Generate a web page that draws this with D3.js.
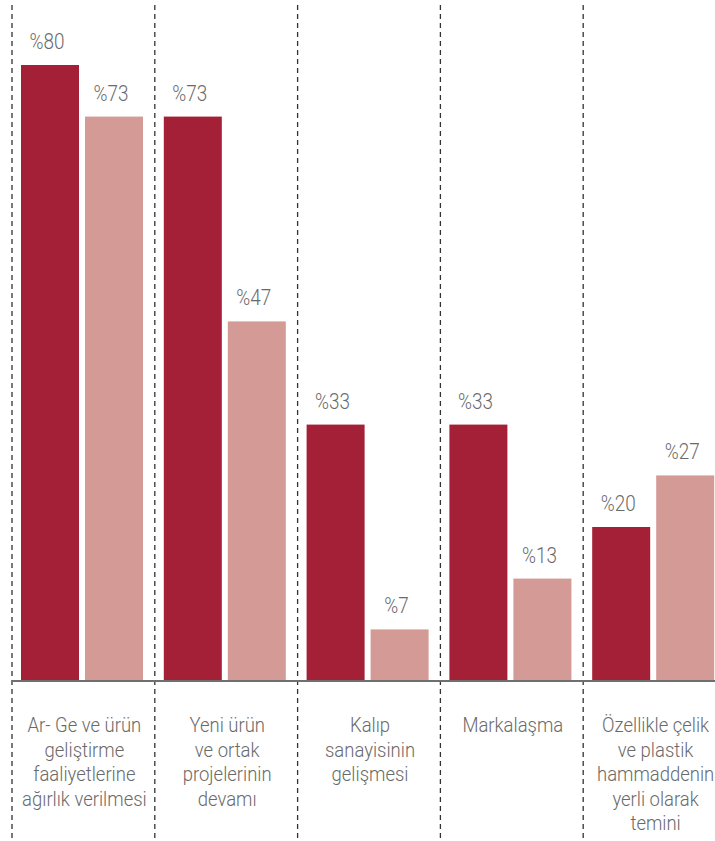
<!DOCTYPE html>
<html><head><meta charset="utf-8">
<script src="https://cdn.jsdelivr.net/npm/d3@7"></script>
<style>
html,body{margin:0;padding:0;background:#fff;}
svg{display:block;}
text{font-family:"Roboto","Liberation Sans",sans-serif;font-weight:300;fill:#6a6a6a;}
</style></head>
<body>
<svg id="chart" width="715" height="841"></svg>
<script>
const categories = [
  ["Ar- Ge ve ürün","geliştirme","faaliyetlerine","ağırlık verilmesi"],
  ["Yeni ürün","ve ortak","projelerinin","devamı"],
  ["Kalıp","sanayisinin","gelişmesi"],
  ["Markalaşma"],
  ["Özellikle çelik","ve plastik","hammaddenin","yerli olarak","temini"]
];
const seriesA = [80, 73.3, 33.3, 33.3, 20];
const seriesB = [73.3, 46.7, 6.7, 13.3, 26.7];
const labelsA = ["%80","%73","%33","%33","%20"];
const labelsB = ["%73","%47","%7","%13","%27"];
const colors = ["#a32036", "#d49a96"];

const svg = d3.select("#chart");
const keys = categories.map((c,i)=>"g"+i);
const x0 = d3.scaleBand().domain(keys).range([12, 12+142.8*5]).padding(0);
const x1 = d3.scaleBand().domain(["a","b"]).range([9, 131]).paddingInner(0.09375).paddingOuter(0);
const y = d3.scaleLinear().domain([0, 80]).range([681, 65]);

// separators
svg.append("g").selectAll("line").data(keys).join("line")
  .attr("x1", d=>x0(d)).attr("x2", d=>x0(d))
  .attr("y1", 5).attr("y2", 841)
  .attr("stroke", "#333").attr("stroke-width", 1.3)
  .attr("stroke-dasharray", "5,4");

const groups = svg.append("g").selectAll("g").data(keys).join("g")
  .attr("transform", d=>`translate(${x0(d)},0)`);

groups.each(function(k,i){
  const g = d3.select(this);
  const data = [{s:"a",v:seriesA[i],l:labelsA[i],c:colors[0]},{s:"b",v:seriesB[i],l:labelsB[i],c:colors[1]}];
  g.selectAll("rect").data(data).join("rect")
    .attr("x", d=>x1(d.s)).attr("width", x1.bandwidth())
    .attr("y", d=>y(d.v)).attr("height", d=>y(0)-y(d.v))
    .attr("fill", d=>d.c);
  g.selectAll("text.val").data(data).join("text").attr("class","val")
    .attr("transform", d=>`translate(${x1(d.s)+x1.bandwidth()/2-3},${y(d.v)-16}) scale(0.86,1)`)
    .attr("text-anchor","middle").attr("font-size", 22)
    .text(d=>d.l);
  const lines = categories[i];
  g.append("g").selectAll("text").data(lines).join("text")
    .attr("transform", (d,j)=>`translate(${x0.bandwidth()/2+1},${732+j*24.5}) scale(0.88,1)`)
    .attr("text-anchor","middle").attr("font-size", 21)
    .text(d=>d);
});

// baseline
svg.append("line").attr("x1", 12).attr("x2", 715)
  .attr("y1", y(0)).attr("y2", y(0))
  .attr("stroke", "#6f6f6f").attr("stroke-width", 2);
</script>
</body></html>
